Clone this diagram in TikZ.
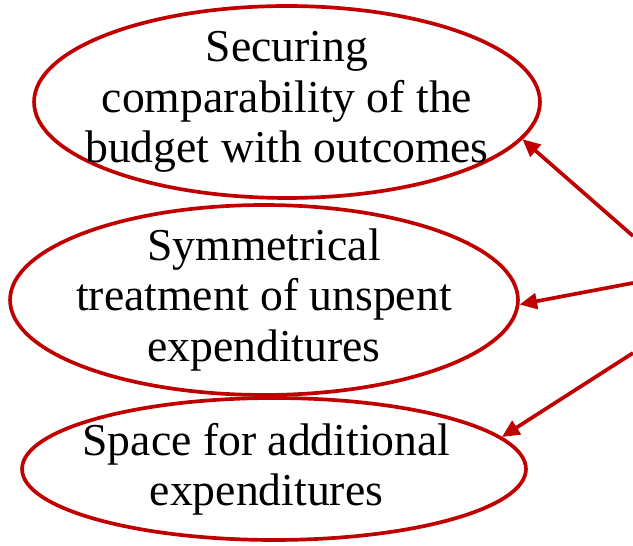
\documentclass[tikz,border=0pt]{standalone}
\usepackage{fontspec}
\setmainfont{Liberation Serif}
\usetikzlibrary{shapes.geometric,arrows.meta,shadows}
\definecolor{goalred}{RGB}{192,0,0}
\tikzset{
  goal/.style={ellipse, draw=goalred, line width=2.1pt, fill=white, inner sep=0pt,
    drop shadow={opacity=0.15, shadow xshift=1pt, shadow yshift=-1pt}},
  goaltext/.style={align=center, font=\fontsize{26}{28.6}\selectfont, inner sep=0pt},
  link/.style={draw=goalred, line width=2.1pt, -{Triangle[length=10pt,width=9pt]}}
}
\begin{document}
\begin{tikzpicture}[x=0.02cm,y=-0.02cm]
      \useasboundingbox (0,0) rectangle (633,546);

      % goals
       \node[goal, minimum width=10.12cm, minimum height=3.84cm,
         label={[goaltext]center:{Securing\\comparability of the\\budget with outcomes}}]
         (comparability) at (287,102) {};
       \node[goal, minimum width=10.16cm, minimum height=3.8cm,
         label={[goaltext]center:{Symmetrical\\treatment of unspent\\expenditures}}]
         (symmetry) at (264,300) {};
       \node[goal, minimum width=10.08cm, minimum height=2.84cm,
         label={[goaltext, xshift=-0.15cm]center:{Space for additional\\expenditures}}]
         (space) at (274,469) {};

      % arrows from the right edge
       \coordinate (from1) at (633,236);
       \coordinate (from2) at (633,283);
       \coordinate (from3) at (633,353);
       \draw [link] (from1) -- (comparability.-9);
       \draw [link] (from2) -- (symmetry.-1);
       \draw [link] (from3) -- (space.8);
    \end{tikzpicture}
\end{document}
